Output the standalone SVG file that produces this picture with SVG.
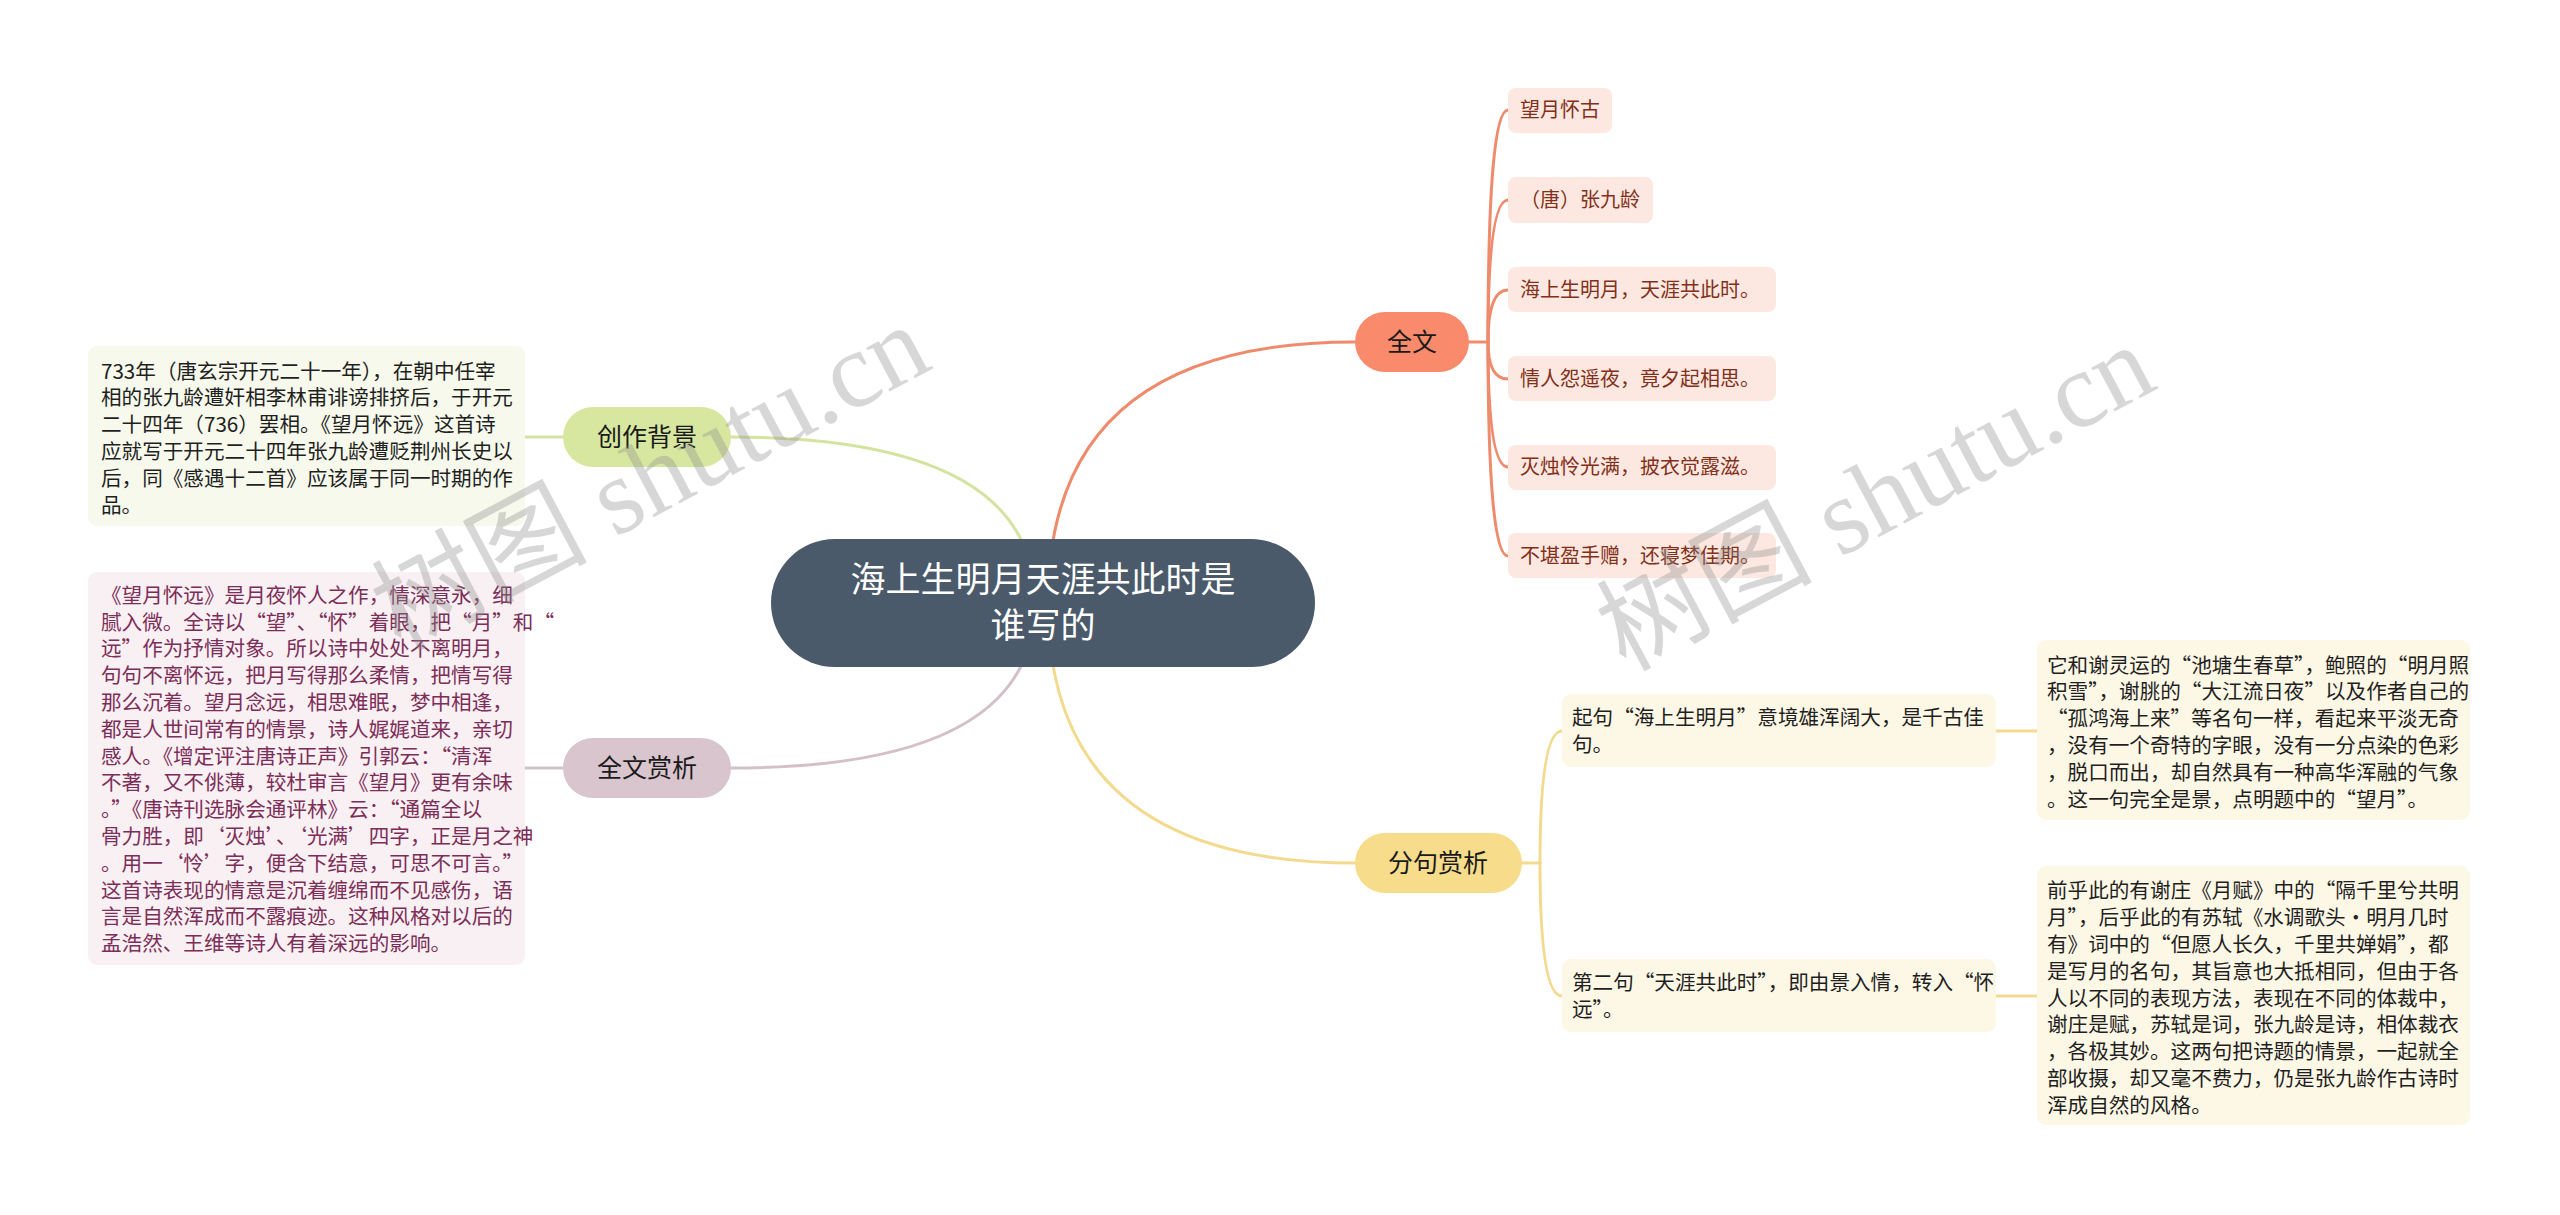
<svg xmlns="http://www.w3.org/2000/svg" width="2560" height="1215" viewBox="0 0 2560 1215">
<style>
text{font-family:'Noto Sans CJK SC','Noto Sans',sans-serif;}
.c{fill:none;stroke-width:3;stroke-linecap:round}
.o{stroke:#ef8b6d}
.g{stroke:#d5e3a1}
.p{stroke:#d3c0c9}
.y{stroke:#f3da8e}
.main{font-size:25px;fill:#1a1a1a;text-anchor:middle}
.leaf{font-size:20px;fill:#83301a}
.leafbox{fill:#fce8e0}
.box{font-size:20.6px}
.wm{font-family:'Liberation Serif','Noto Sans CJK SC',serif;fill:#8c8c8c;opacity:.34;font-size:108px}
</style>
<rect width="2560" height="1215" fill="#ffffff"/>
<g id="connectors">
<path class="c g" d="M1035,603 Q1035,437 731,437"/>
<path class="c g" d="M563,437 H525"/>
<path class="c p" d="M1035,603 Q1035,768 731,768"/>
<path class="c p" d="M563,768 H525"/>
<path class="c o" d="M1048,603 Q1048,342 1355,342"/>
<path class="c o" d="M1469,342 H1488"/>
<path class="c o" d="M1488,342 Q1488,110 1508,110"/>
<path class="c o" d="M1488,342 Q1488,200 1508,200"/>
<path class="c o" d="M1488,342 Q1488,290 1508,290"/>
<path class="c o" d="M1488,342 Q1488,379 1508,379"/>
<path class="c o" d="M1488,342 Q1488,467 1508,467"/>
<path class="c o" d="M1488,342 Q1488,556 1508,556"/>
<path class="c y" d="M1048,603 Q1048,863 1355,863"/>
<path class="c y" d="M1522,863 H1540"/>
<path class="c y" d="M1540,863 Q1540,731 1562,731"/>
<path class="c y" d="M1540,863 Q1540,996 1562,996"/>
<path class="c y" d="M1996,731 H2037"/>
<path class="c y" d="M1996,996 H2037"/>
</g>
<g id="root">
<rect x="771" y="539" width="544" height="128" rx="64" fill="#4a5a6b"/>
<text x="1043" y="592" font-size="35" fill="#ffffff" text-anchor="middle">海上生明月天涯共此时是</text>
<text x="1043" y="638" font-size="35" fill="#ffffff" text-anchor="middle">谁写的</text>
</g>
<g id="n-quanwen">
<rect x="1355" y="312" width="114" height="60" rx="30" fill="#f98a6b"/>
<text class="main" x="1412" y="351">全文</text>
</g>
<g id="n-leaf1"><rect class="leafbox" x="1508" y="88" width="104" height="45" rx="8"/><text class="leaf" x="1520" y="117">望月怀古</text></g>
<g id="n-leaf2"><rect class="leafbox" x="1508" y="177" width="145" height="46" rx="8"/><text class="leaf" x="1520" y="207">（唐）张九龄</text></g>
<g id="n-leaf3"><rect class="leafbox" x="1508" y="267" width="268" height="45" rx="8"/><text class="leaf" x="1520" y="297">海上生明月，天涯共此时。</text></g>
<g id="n-leaf4"><rect class="leafbox" x="1508" y="356" width="268" height="45" rx="8"/><text class="leaf" x="1520" y="386">情人怨遥夜，竟夕起相思。</text></g>
<g id="n-leaf5"><rect class="leafbox" x="1508" y="445" width="268" height="45" rx="8"/><text class="leaf" x="1520" y="474">灭烛怜光满，披衣觉露滋。</text></g>
<g id="n-leaf6"><rect class="leafbox" x="1508" y="533" width="268" height="45" rx="8"/><text class="leaf" x="1520" y="563">不堪盈手赠，还寝梦佳期。</text></g>
<g id="n-beijing">
<rect x="563" y="407" width="168" height="60" rx="30" fill="#d7e7a0"/>
<text class="main" x="647" y="446">创作背景</text>
</g>
<g id="n-beijing-text">
<rect x="88" y="346" width="437" height="180" rx="9" fill="#f6f9eb"/>
<text class="box" fill="#1f1f1f">
<tspan x="101" y="378.5">733年（唐玄宗开元二十一年），在朝中任宰</tspan>
<tspan x="101" y="405.3">相的张九龄遭奸相李林甫诽谤排挤后，于开元</tspan>
<tspan x="101" y="432.1">二十四年（736）罢相。《望月怀远》这首诗</tspan>
<tspan x="101" y="458.9">应就写于开元二十四年张九龄遭贬荆州长史以</tspan>
<tspan x="101" y="485.7">后，同《感遇十二首》应该属于同一时期的作</tspan>
<tspan x="101" y="512.5">品。</tspan>
</text>
</g>
<g id="n-shangxi">
<rect x="563" y="738" width="168" height="60" rx="30" fill="#d9c5ce"/>
<text class="main" x="647" y="777">全文赏析</text>
</g>
<g id="n-shangxi-text">
<rect x="88" y="572" width="437" height="393" rx="9" fill="#f8f0f3"/>
<text class="box" fill="#7d2e58">
<tspan x="101" y="602.8">《望月怀远》是月夜怀人之作，情深意永，细</tspan>
<tspan x="101" y="629.6">腻入微。全诗以“望”、“怀”着眼，把“月”和“</tspan>
<tspan x="101" y="656.4">远”作为抒情对象。所以诗中处处不离明月，</tspan>
<tspan x="101" y="683.2">句句不离怀远，把月写得那么柔情，把情写得</tspan>
<tspan x="101" y="710.0">那么沉着。望月念远，相思难眠，梦中相逢，</tspan>
<tspan x="101" y="736.8">都是人世间常有的情景，诗人娓娓道来，亲切</tspan>
<tspan x="101" y="763.6">感人。《增定评注唐诗正声》引郭云：“清浑</tspan>
<tspan x="101" y="790.4">不著，又不佻薄，较杜审言《望月》更有余味</tspan>
<tspan x="101" y="817.2">。”《唐诗刊选脉会通评林》云：“通篇全以</tspan>
<tspan x="101" y="844.0">骨力胜，即‘灭烛’、‘光满’四字，正是月之神</tspan>
<tspan x="101" y="870.8">。用一‘怜’字，便含下结意，可思不可言。”</tspan>
<tspan x="101" y="897.6">这首诗表现的情意是沉着缠绵而不见感伤，语</tspan>
<tspan x="101" y="924.4">言是自然浑成而不露痕迹。这种风格对以后的</tspan>
<tspan x="101" y="951.2">孟浩然、王维等诗人有着深远的影响。</tspan>
</text>
</g>
<g id="n-fenju">
<rect x="1355" y="833" width="167" height="60" rx="30" fill="#f7dc8b"/>
<text class="main" x="1438" y="872">分句赏析</text>
</g>
<g id="n-fenju-1">
<rect x="1562" y="694" width="434" height="73" rx="9" fill="#fdf7e6"/>
<text class="box" fill="#1f1f1f">
<tspan x="1572" y="725">起句“海上生明月”意境雄浑阔大，是千古佳</tspan>
<tspan x="1572" y="752">句。</tspan>
</text>
</g>
<g id="n-fenju-1a">
<rect x="2037" y="640" width="433" height="180" rx="9" fill="#fdf7e6"/>
<text class="box" fill="#1f1f1f">
<tspan x="2047" y="672.5">它和谢灵运的“池塘生春草”，鲍照的“明月照</tspan>
<tspan x="2047" y="699.3">积雪”，谢朓的“大江流日夜”以及作者自己的</tspan>
<tspan x="2047" y="726.1">“孤鸿海上来”等名句一样，看起来平淡无奇</tspan>
<tspan x="2047" y="752.9">，没有一个奇特的字眼，没有一分点染的色彩</tspan>
<tspan x="2047" y="779.7">，脱口而出，却自然具有一种高华浑融的气象</tspan>
<tspan x="2047" y="806.5">。这一句完全是景，点明题中的“望月”。</tspan>
</text>
</g>
<g id="n-fenju-2">
<rect x="1562" y="959" width="434" height="73" rx="9" fill="#fdf7e6"/>
<text class="box" fill="#1f1f1f">
<tspan x="1572" y="990">第二句“天涯共此时”，即由景入情，转入“怀</tspan>
<tspan x="1572" y="1017">远”。</tspan>
</text>
</g>
<g id="n-fenju-2a">
<rect x="2037" y="866" width="433" height="259" rx="9" fill="#fdf7e6"/>
<text class="box" fill="#1f1f1f">
<tspan x="2047" y="898.3">前乎此的有谢庄《月赋》中的“隔千里兮共明</tspan>
<tspan x="2047" y="925.1">月”，后乎此的有苏轼《水调歌头·明月几时</tspan>
<tspan x="2047" y="951.9">有》词中的“但愿人长久，千里共婵娟”，都</tspan>
<tspan x="2047" y="978.7">是写月的名句，其旨意也大抵相同，但由于各</tspan>
<tspan x="2047" y="1005.5">人以不同的表现方法，表现在不同的体裁中，</tspan>
<tspan x="2047" y="1032.3">谢庄是赋，苏轼是词，张九龄是诗，相体裁衣</tspan>
<tspan x="2047" y="1059.1">，各极其妙。这两句把诗题的情景，一起就全</tspan>
<tspan x="2047" y="1085.9">部收摄，却又毫不费力，仍是张九龄作古诗时</tspan>
<tspan x="2047" y="1112.7">浑成自然的风格。</tspan>
</text>
</g>
<g id="watermarks">
<text class="wm" x="400" y="652" transform="rotate(-28 400 652)">树图 shutu.cn</text>
<text class="wm" x="1625" y="672" transform="rotate(-28 1625 672)">树图 shutu.cn</text>
</g>
</svg>
